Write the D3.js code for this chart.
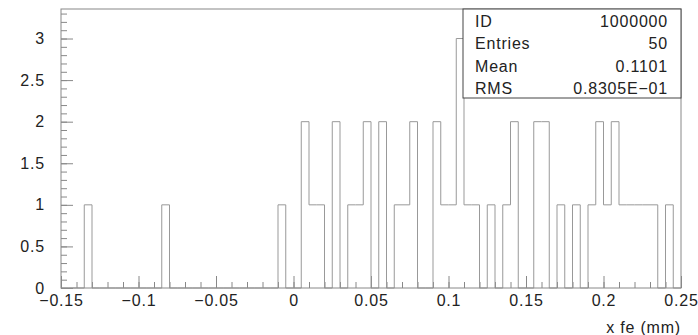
<!DOCTYPE html>
<html>
<head>
<meta charset="utf-8">
<script src="https://cdn.jsdelivr.net/npm/d3@7"></script>
<style>
  body { margin: 0; background: #fff; }
  svg { display: block; }
</style>
</head>
<body>
<div id="container"></div>
<script>
// Histogram SVG Dimensions
var svg_width = 698
var svg_height = 335

//
// Histogram data (80 bins of 0.005 from -0.15 to 0.25)
var xMin = -0.15
var xMax = 0.25
var binWidth = 0.005
var counts = [
    0,0,0,1,0,0,0,0,0,0,
    0,0,0,1,0,0,0,0,0,0,
    0,0,0,0,0,0,0,0,1,0,
    0,2,1,1,0,2,0,1,1,2,
    0,2,0,1,1,2,0,0,2,1,
    1,3,1,1,0,1,0,1,2,0,
    0,2,2,0,1,0,1,0,1,2,
    1,2,1,1,1,1,1,0,1,0
]

// Axis ticks
var xMajorTicks = [-0.15, -0.1, -0.05, 0, 0.05, 0.1, 0.15, 0.2, 0.25]
var xTickLabels = ["\u22120.15", "\u22120.1", "\u22120.05", "0", "0.05", "0.1", "0.15", "0.2", "0.25"]
var yMajorTicks = [0, 0.5, 1, 1.5, 2, 2.5, 3]
var yTickLabels = ["0", "0.5", "1", "1.5", "2", "2.5", "3"]
var xLabel = "x fe (mm)"

// Statistics box
var statNames = ["ID", "Entries", "Mean", "RMS"]
var statValues = ["1000000", "50", "0.1101", "0.8305E\u221201"]

//
// Creating SVG
var svg = d3.select("#container")
    .append("svg")
    .attr("width", svg_width)
    .attr("height", svg_height)

var plotL = 61, plotR = 681, plotT = 9, plotB = 288

var x = d3.scaleLinear().domain([xMin, xMax]).range([plotL, plotR])
var y = d3.scaleLinear().domain([0, 3.355]).range([plotB, plotT])

var font = "'Liberation Sans', Arial, sans-serif"
var spacing = "0.8px"

// minor tick values
var xMinor = d3.range(0, 41).map(i => xMin + i * 0.01)
var yMinor = d3.range(0, 34).map(i => i * 0.1)

// --- Minor ticks ---
svg.append("g")
    .attr("transform", "translate(0," + plotB + ")")
    .call(d3.axisBottom(x).tickValues(xMinor).tickSize(-6).tickFormat(""))
    .call(g => g.select(".domain").remove())
    .selectAll("line").attr("stroke", "#888")

svg.append("g")
    .attr("transform", "translate(" + plotL + ",0)")
    .call(d3.axisLeft(y).tickValues(yMinor).tickSize(-6).tickFormat(""))
    .call(g => g.select(".domain").remove())
    .selectAll("line").attr("stroke", "#888")

// --- Major ticks with labels ---
var xAxis = svg.append("g")
    .attr("transform", "translate(0," + plotB + ")")
    .call(d3.axisBottom(x).tickValues(xMajorTicks).tickSize(-12).tickPadding(7)
        .tickFormat((d, i) => xTickLabels[i]))
xAxis.select(".domain").remove()
xAxis.selectAll("line").attr("stroke", "#888")
xAxis.selectAll("text")
    .attr("fill", "#222")
    .style("font-family", font)
    .style("font-size", "16px")
    .style("letter-spacing", spacing)

var yAxis = svg.append("g")
    .attr("transform", "translate(" + plotL + ",0)")
    .call(d3.axisLeft(y).tickValues(yMajorTicks).tickSize(-12).tickPadding(16)
        .tickFormat((d, i) => yTickLabels[i]))
yAxis.select(".domain").remove()
yAxis.selectAll("line").attr("stroke", "#888")
yAxis.selectAll("text")
    .attr("fill", "#222")
    .style("font-family", font)
    .style("font-size", "16px")
    .style("letter-spacing", spacing)

// --- Histogram step outline ---
var pts = [[xMin, 0]]
counts.forEach(function(c, i) {
    var lo = xMin + i * binWidth
    pts.push([lo, c])
    pts.push([lo + binWidth, c])
})
pts.push([xMax, 0])

svg.append("path")
    .datum(pts)
    .attr("fill", "none")
    .attr("stroke", "#999")
    .attr("stroke-width", 1)
    .attr("d", d3.line().x(d => x(d[0])).y(d => y(d[1])))

// --- Frame ---
svg.append("rect")
    .attr("x", plotL).attr("y", plotT)
    .attr("width", plotR - plotL).attr("height", plotB - plotT)
    .attr("fill", "none")
    .attr("stroke", "#888")
    .attr("stroke-width", 1)

// --- Statistics box ---
var boxLeft = 463, boxBottom = 98, rowH = 22.2
svg.append("rect")
    .attr("x", boxLeft).attr("y", plotT)
    .attr("width", plotR - boxLeft).attr("height", boxBottom - plotT)
    .attr("fill", "#fff")
    .attr("stroke", "#444")
    .attr("stroke-width", 1)

var stats = svg.append("g")
    .style("font-family", font)
    .style("font-size", "16px")
    .style("letter-spacing", spacing)
    .attr("fill", "#222")

stats.selectAll(".sname")
    .data(statNames)
    .enter()
    .append("text")
    .attr("x", boxLeft + 12)
    .attr("y", (d, i) => plotT + rowH * i + rowH / 2 + 7)
    .text(d => d)

stats.selectAll(".sval")
    .data(statValues)
    .enter()
    .append("text")
    .attr("x", plotR - 13)
    .attr("y", (d, i) => plotT + rowH * i + rowH / 2 + 7)
    .attr("text-anchor", "end")
    .text(d => d)

// x axis title
svg.append("text")
    .attr("x", plotR)
    .attr("y", 333)
    .attr("text-anchor", "end")
    .attr("fill", "#222")
    .style("font-family", font)
    .style("font-size", "16px")
    .style("letter-spacing", spacing)
    .text(xLabel)
</script>
</body>
</html>
